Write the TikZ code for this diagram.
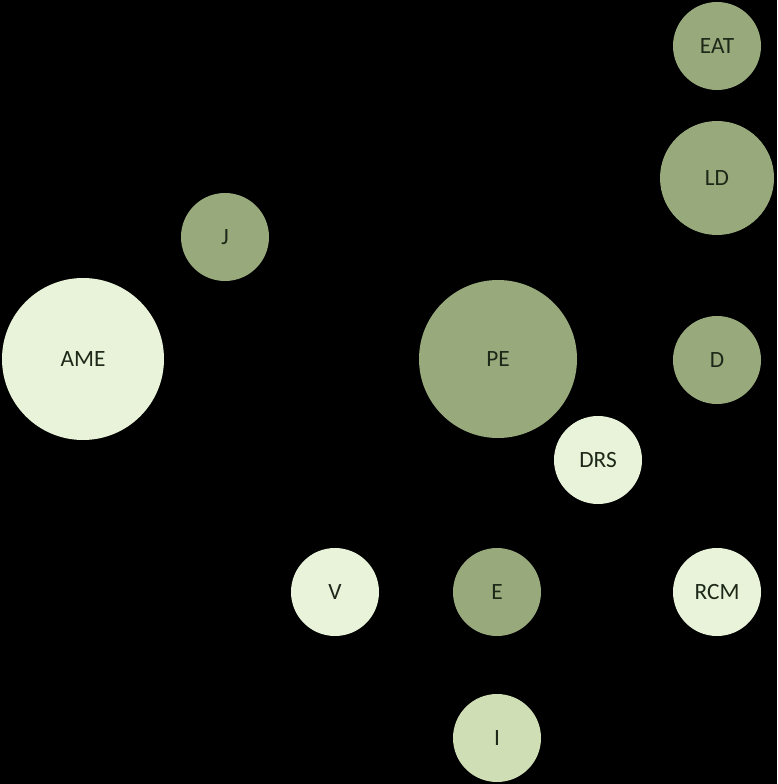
\documentclass[tikz,border=0pt]{standalone}
\usepackage{fontspec}
\setmainfont{Carlito}
\definecolor{darkg}{HTML}{98A97C}
\definecolor{lightg}{HTML}{E8F3DA}
\definecolor{midg}{HTML}{CFDEB5}
\definecolor{txt}{HTML}{1E2818}
\begin{document}
\begin{tikzpicture}[x=0.75pt,y=-0.75pt,
  bub/.style={circle,inner sep=0pt,draw=none,text=txt,font=\fontsize{17.5}{20}\selectfont},
  bubdark/.style={bub,fill=darkg},
  bublight/.style={bub,fill=lightg},
  bubmid/.style={bub,fill=midg}]
\fill[black] (0,0) rectangle (777,784);
\useasboundingbox (0,0) rectangle (777,784);
\node[bubdark,minimum size=66pt] (EAT) at (717,46) {EAT};
\node[bubdark,minimum size=85.5pt] (LD) at (717,178) {LD};
\node[bubdark,minimum size=66pt] (J) at (225,237) {J};
\node[bublight,minimum size=121.5pt] (AME) at (83,359) {AME};
\node[bubdark,minimum size=118.5pt] (PE) at (498,359) {PE};
\node[bubdark,minimum size=66pt] (D) at (717,360) {D};
\node[bublight,minimum size=66pt] (DRS) at (598,460) {DRS};
\node[bublight,minimum size=66pt] (V) at (335,592) {V};
\node[bubdark,minimum size=66pt] (E) at (497,592) {E};
\node[bublight,minimum size=66pt] (RCM) at (717,592) {RCM};
\node[bubmid,minimum size=66pt] (I) at (497,738) {I};
\end{tikzpicture}
\end{document}
